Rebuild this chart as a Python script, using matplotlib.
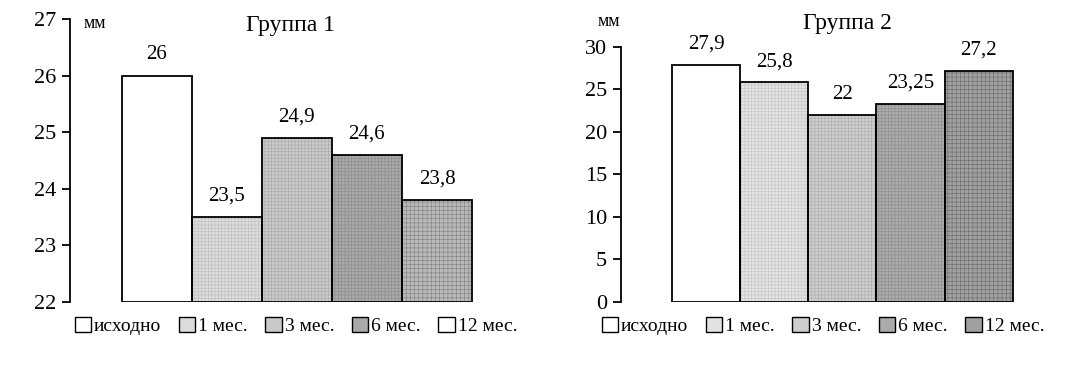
import matplotlib.pyplot as plt
from matplotlib.patches import Patch

plt.rcParams['font.family'] = ['Liberation Serif', 'DejaVu Serif']
plt.rcParams['hatch.linewidth'] = 0.4

labels = ['исходно', '1 мес.', '3 мес.', '6 мес.', '12 мес.']
group1 = [26, 23.5, 24.9, 24.6, 23.8]
group1_text = ['26', '23,5', '24,9', '24,6', '23,8']
group2 = [27.9, 25.8, 22, 23.25, 27.2]
group2_text = ['27,9', '25,8', '22', '23,25', '27,2']

faces1 = ['white', '#dcdcdc', '#c9c9c9', '#a9a9a9', '#b9b9b9']
hatch_c1 = ['white', '#bdbdbd', '#a9a9a9', '#8c8c8c', '#808080']
legend1 = ['white', '#dcdcdc', '#c9c9c9', '#a9a9a9', 'white']
faces2 = ['white', '#e2e2e2', '#cdcdcd', '#ababab', '#a0a0a0']
hatch_c2 = ['white', '#c4c4c4', '#acacac', '#8e8e8e', '#6a6a6a']
hatches = [None, '+++++', '+++++', '+++++', '++++']

W, H = 1085, 374
fig = plt.figure(figsize=(W / 100, H / 100), dpi=100)


def panel(x0, x1, ybot, ytop, xlim, ylim, ticks, vals, texts, faces, hcols, legcols):
    ax = fig.add_axes([x0 / W, ybot, (x1 - x0) / W, ytop - ybot])
    xs = range(len(vals))
    base = ylim[0]
    heights = [v - base for v in vals]
    ax.bar(xs, heights, bottom=base, width=1.0, color=faces, edgecolor='none')
    for x, h, hc, ht in zip(xs, heights, hcols, hatches):
        if ht:
            ax.bar(x, h, bottom=base, width=1.0, facecolor='none', edgecolor=hc, hatch=ht, linewidth=0)
    ax.bar(xs, heights, bottom=base, width=1.0, facecolor='none', edgecolor='black', linewidth=1.3)
    for x, v, t in zip(xs, vals, texts):
        ax.annotate(t, (x, v), xytext=(0, 8), textcoords='offset points',
                    ha='center', va='bottom', fontsize=15)
    ax.set_xlim(*xlim)
    ax.set_ylim(*ylim)
    ax.set_yticks(ticks)
    ax.set_xticks([])
    for s in ['top', 'right', 'bottom']:
        ax.spines[s].set_visible(False)
    ax.spines['left'].set_linewidth(1.3)
    ax.tick_params(axis='y', length=6, width=1.3, labelsize=16, pad=4)
    handles = [Patch(facecolor=c, edgecolor='black', linewidth=1.0) for c in legcols]
    return ax, handles


def legend(handles, xc):
    fig.legend(handles, labels, loc='center', bbox_to_anchor=(xc / W, 1 - 326 / H), ncol=5,
               frameon=False, handlelength=0.85, handleheight=0.85, handletextpad=0.15,
               columnspacing=0.9, fontsize=14, borderpad=0)


ax1, h1 = panel(70, 500, 72 / H, 355 / H, (-1.237, 4.9), (22, 27), range(22, 28),
                group1, group1_text, faces1, hatch_c1, legend1)
fig.text(95 / W, 1 - 23 / H, 'мм', ha='center', va='center', fontsize=13)
fig.text(290 / W, 1 - 25 / H, 'Группа 1', ha='center', va='center', fontsize=17)
legend(h1, 296)

ax2, h2 = panel(621, 1040, 72.3 / H, 327.3 / H, (-1.246, 4.9), (0, 30), range(0, 31, 5),
                group2, group2_text, faces2, hatch_c2, faces2)
fig.text(609 / W, 1 - 22 / H, 'мм', ha='center', va='center', fontsize=13)
fig.text(847 / W, 1 - 23 / H, 'Группа 2', ha='center', va='center', fontsize=17)
legend(h2, 823)

fig.savefig('out.png', dpi=100, facecolor='white')
